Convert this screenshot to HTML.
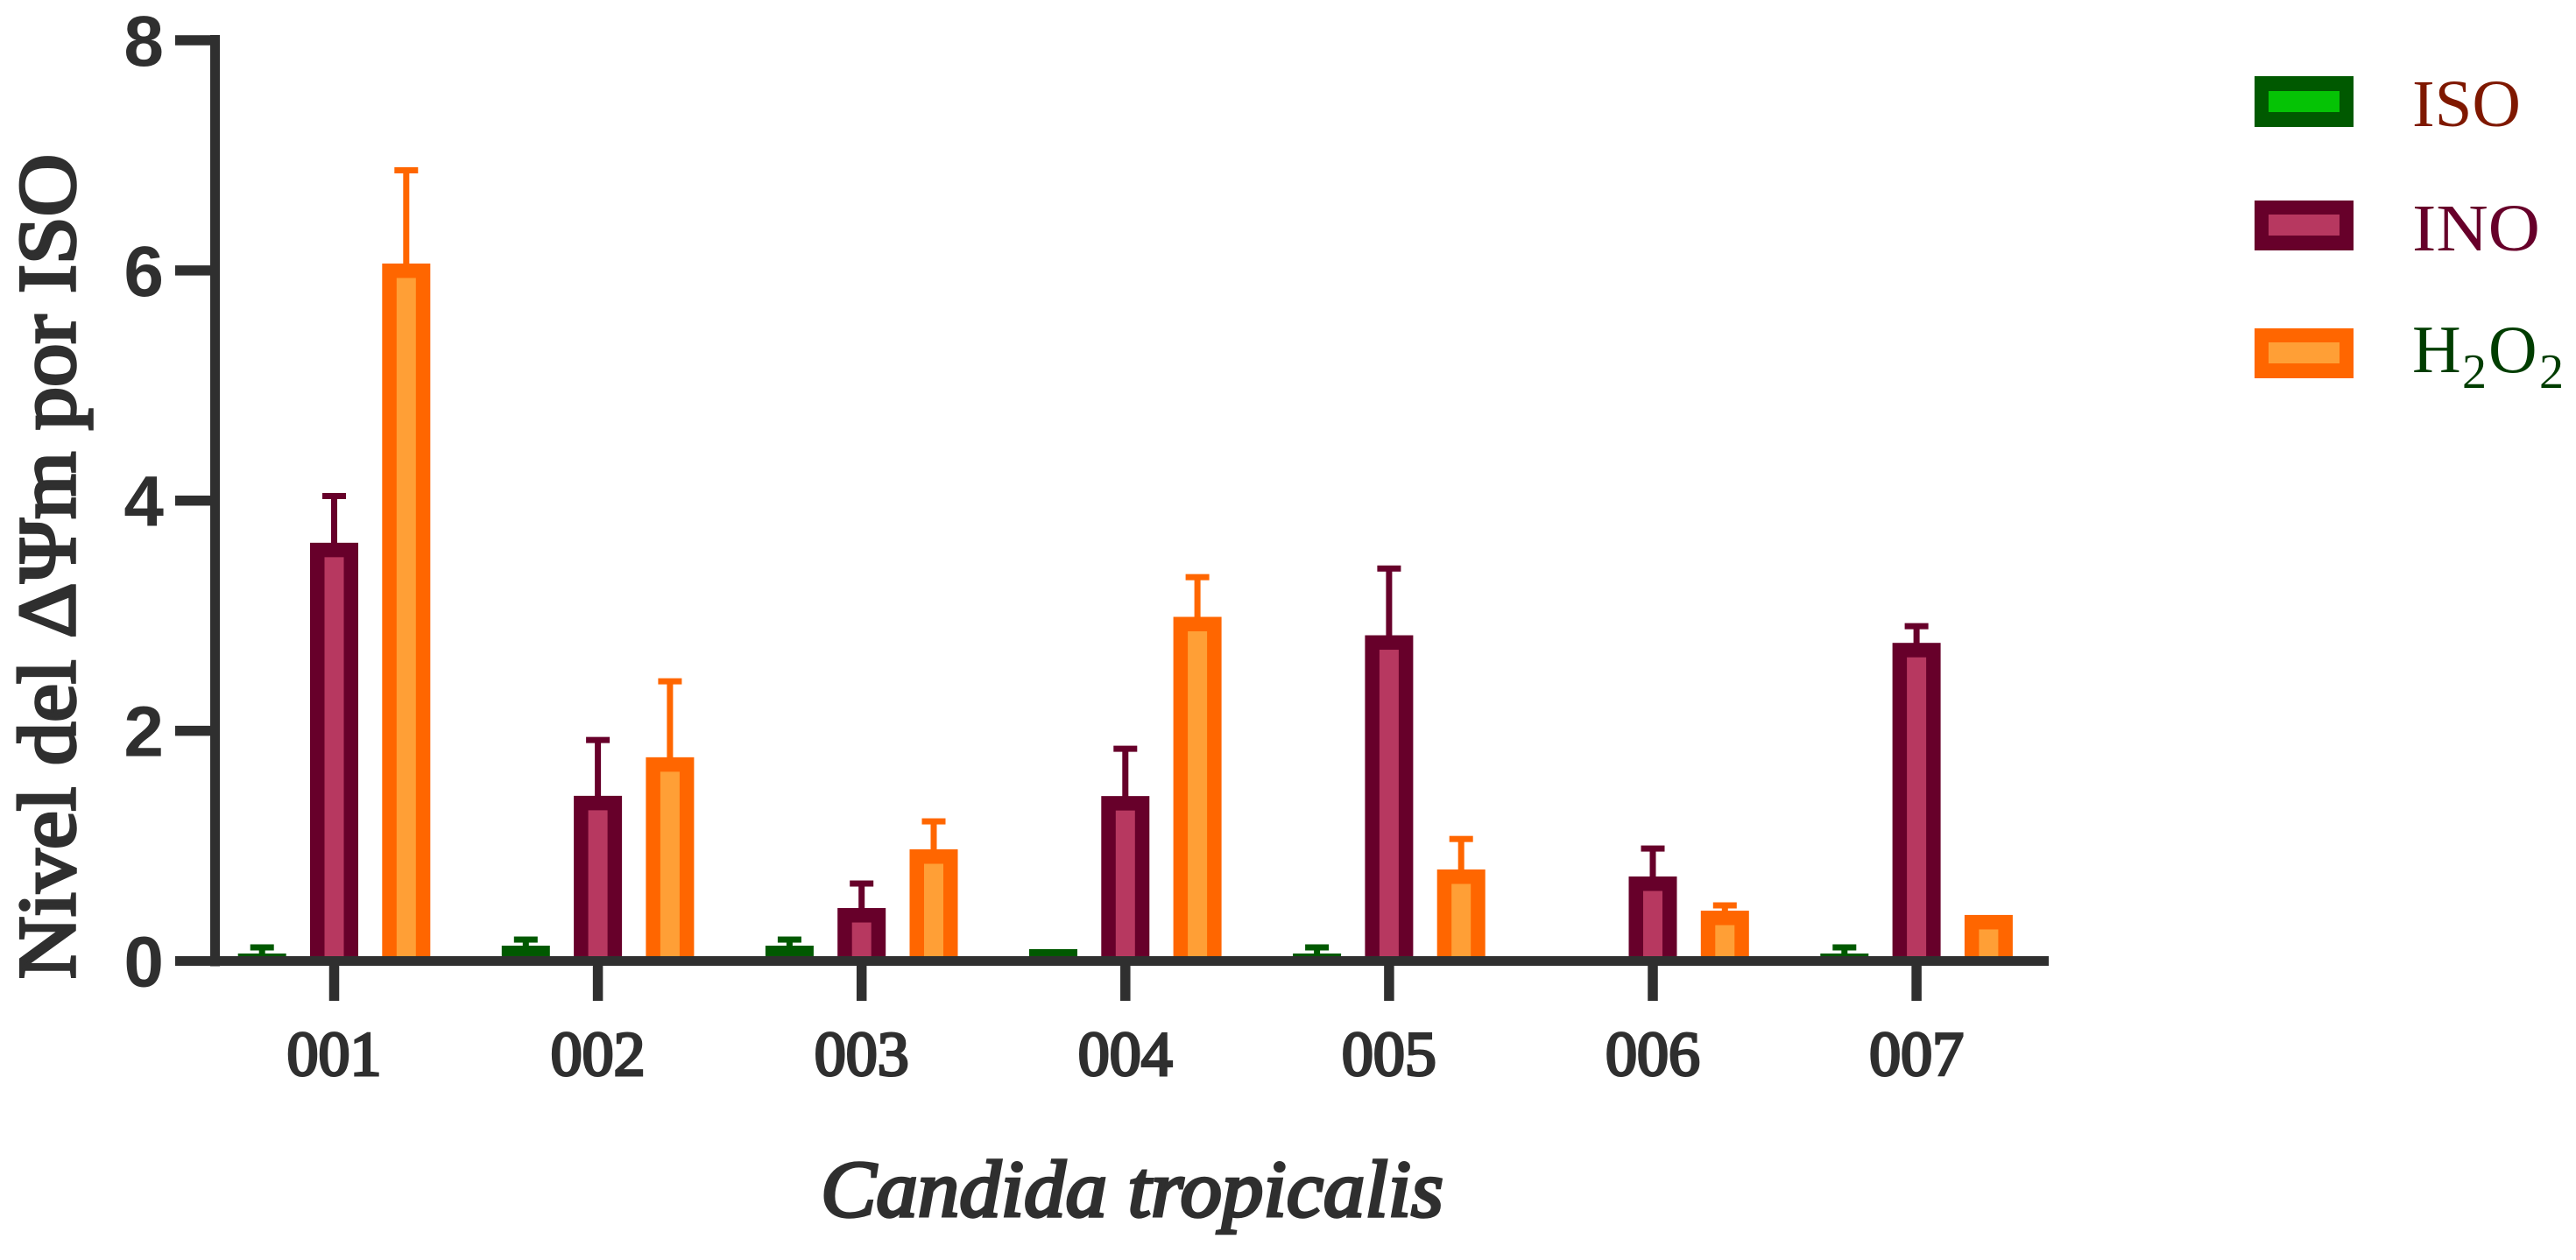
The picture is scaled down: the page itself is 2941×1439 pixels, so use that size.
<!DOCTYPE html>
<html lang="es">
<head>
<meta charset="utf-8">
<title>Nivel del ΔΨm por ISO</title>
<style>
html,body{margin:0;padding:0;background:#fff;width:2941px;height:1439px;overflow:hidden}
svg{display:block}
text{font-family:"Liberation Serif","DejaVu Serif",serif}
.num{font-family:"Liberation Sans",Arial,sans-serif;font-weight:700;font-size:82px;fill:#2f2f2f}
</style>
</head>
<body>
<svg id="chart" xmlns="http://www.w3.org/2000/svg" width="2941" height="1439" viewBox="0 0 2941 1439">
  <rect x="0" y="0" width="2941" height="1439" fill="#ffffff"/>
  <g id="bars"></g>
  <g id="axes"></g>

  <text transform="translate(85,1118) rotate(-90)" font-size="93" fill="#2f2f2f" stroke="#2f2f2f" stroke-width="3.5" textLength="942" lengthAdjust="spacingAndGlyphs">Nivel del ΔΨm por ISO</text>
  <text x="937" y="1389" font-size="92" font-style="italic" fill="#2f2f2f" stroke="#2f2f2f" stroke-width="3.5" textLength="711" lengthAdjust="spacingAndGlyphs">Candida tropicalis</text>

  <g>
    <g>
      <rect x="2574" y="87" width="113" height="58" fill="#005900"/>
      <rect x="2590" y="104" width="81" height="24" fill="#05c305"/>
      <text x="2754" y="144" font-size="76" fill="#7f1800" textLength="124" lengthAdjust="spacingAndGlyphs">ISO</text>
    </g>
    <g>
      <rect x="2574" y="229" width="113" height="57" fill="#67002a"/>
      <rect x="2590" y="245" width="81" height="24" fill="#b73860"/>
      <text x="2754" y="286" font-size="76" fill="#67002a" textLength="146" lengthAdjust="spacingAndGlyphs">INO</text>
    </g>
    <g>
      <rect x="2574" y="375" width="113" height="57" fill="#ff6600"/>
      <rect x="2590" y="391" width="81" height="24" fill="#ff9f36"/>
      <text font-size="77" fill="#003d00"><tspan x="2754" y="425">H</tspan><tspan x="2811" y="443" font-size="56">2</tspan><tspan x="2841" y="425">O</tspan><tspan x="2899" y="443" font-size="56">2</tspan></text>
    </g>
  </g>
</svg>
<script>
const categories = ['001', '002', '003', '004', '005', '006', '007'];
const yTicks = [0, 2, 4, 6, 8];
const seriesNames = ['iso', 'ino', 'h2o2'];
const isoValues = [0.065, 0.133, 0.133, 0.103, 0.065, 0, 0.065];
const isoErrors = [0.118, 0.186, 0.186, null, 0.118, null, 0.118];
const inoValues = [3.634, 1.435, 0.46, 1.433, 2.83, 0.734, 2.764];
const inoErrors = [4.04, 1.92, 0.673, 1.844, 3.41, 0.977, 2.909];
const h2o2Values = [6.06, 1.77, 0.97, 2.99, 0.795, 0.437, 0.4];
const h2o2Errors = [6.87, 2.43, 1.213, 3.335, 1.06, 0.483, null];

const valuesBySeries = [isoValues, inoValues, h2o2Values];
const errorsBySeries = [isoErrors, inoErrors, h2o2Errors];
const strokeColors = ['#005900', '#67002a', '#ff6600'];
const fillColors = ['#05c305', '#b73860', '#ff9f36'];

const NS = 'http://www.w3.org/2000/svg';
const AXIS_INK = '#2f2f2f';
const BASE_Y = 1092;
const BAR_W = 55;
const BORDER = 16.5;

function yScale(v) { return 1097.5 - 131.44 * v; }
function xScale(i) { return 381.5 + 301.1 * i; }
function seriesX(i, s) { return xScale(i) + (s - 1) * 82.3; }

function make(tag, attrs, parent) {
  const el = document.createElementNS(NS, tag);
  for (const k in attrs) el.setAttribute(k, attrs[k]);
  parent.appendChild(el);
  return el;
}

const barsLayer = document.getElementById('bars');
const axesLayer = document.getElementById('axes');

seriesNames.forEach(function (name, s) {
  categories.forEach(function (cat, i) {
    const v = valuesBySeries[s][i];
    const err = errorsBySeries[s][i];
    const cx = seriesX(i, s);
    const top = yScale(v);
    if (err !== null) {
      const errTop = yScale(err);
      const stem = make('rect', { x: cx - 3.5, y: errTop, width: 7, height: Math.max(0, top - errTop + 1), fill: strokeColors[s] }, barsLayer);
      
      
      const cap = make('rect', { x: cx - 13.5, y: errTop - 3.5, width: 27, height: 7, fill: strokeColors[s] }, barsLayer);
      
      
    }
    if (v > 0) {
      const outer = make('rect', { x: cx - BAR_W / 2, y: top, width: BAR_W, height: Math.max(0, BASE_Y - top), fill: strokeColors[s] }, barsLayer);
      
      
      const innerH = BASE_Y - top - BORDER;
      if (innerH > 0) {
        const inner = make('rect', { x: cx - BAR_W / 2 + BORDER, y: top + BORDER, width: BAR_W - 2 * BORDER, height: innerH, fill: fillColors[s] }, barsLayer);
        
        
      }
    }
  });
});

const yLine = make('rect', { x: 240, y: yScale(8) - 6, width: 11, height: 1103.5 - yScale(8) + 6, fill: AXIS_INK }, axesLayer);



const xLine = make('rect', { x: 200, y: 1092, width: 2139, height: 11, fill: AXIS_INK }, axesLayer);



yTicks.forEach(function (t) {
  const py = yScale(t);
  if (t !== 0) {
    const tick = make('rect', { x: 200, y: py - 5.75, width: 41, height: 11.5, fill: AXIS_INK }, axesLayer);
    
    
  }
  const label = make('text', { x: 187, y: py + 29, 'text-anchor': 'end', class: 'num' }, axesLayer);
  
  
  label.textContent = String(t);
});

categories.forEach(function (cat, i) {
  const px = xScale(i);
  const tick = make('rect', { x: px - 5.75, y: 1103, width: 11.5, height: 40, fill: AXIS_INK }, axesLayer);
  
  
  const label = make('text', { x: px, y: 1228, 'text-anchor': 'middle', 'font-size': 72, fill: AXIS_INK, stroke: AXIS_INK, 'stroke-width': 3 }, axesLayer);
  
  
  label.textContent = cat;
});
</script>
</body>
</html>
